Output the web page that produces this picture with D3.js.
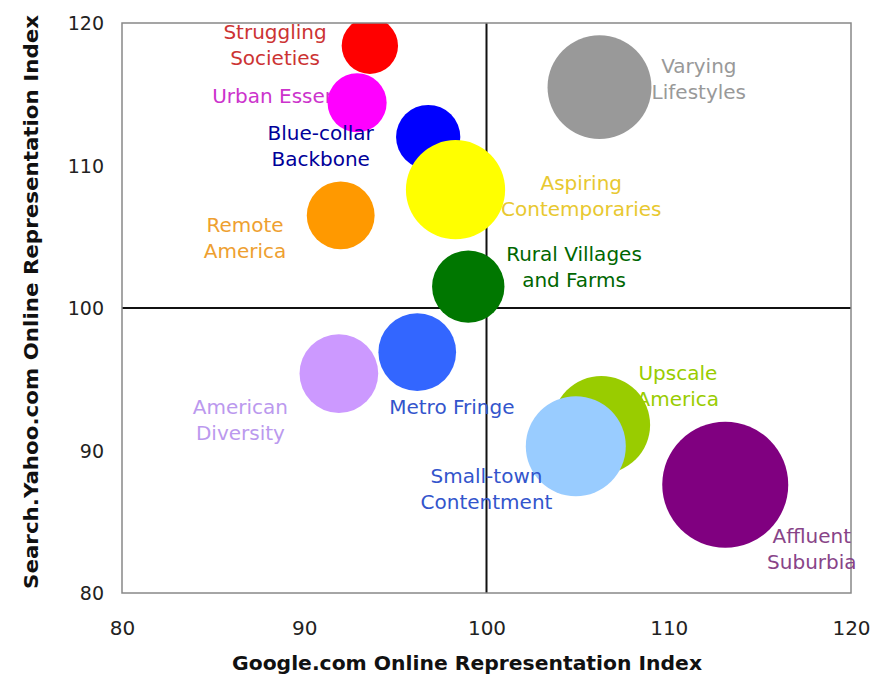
<!DOCTYPE html>
<html>
<head>
<meta charset="utf-8">
<script src="https://cdn.jsdelivr.net/npm/d3@7"></script>
<style>
  html, body { margin: 0; padding: 0; background: #ffffff; }
  svg { display: block; }
</style>
</head>
<body>
<svg id="chart" width="886" height="675"></svg>
<script>
// ---- data (drawing order) ----
const segments = ["Metro Fringe", "American Diversity", "Remote America", "Blue-collar Backbone",
  "Aspiring Contemporaries", "Rural Villages and Farms", "Struggling Societies", "Urban Essentials",
  "Varying Lifestyles", "Upscale America", "Small-town Contentment", "Affluent Suburbia"];
const googleIndex = [96.2, 91.9, 92.0, 96.8, 98.3, 99.0, 93.6, 92.9, 106.2, 106.3, 104.9, 113.1];
const yahooIndex  = [96.9, 95.4, 106.5, 112.0, 108.3, 101.5, 118.4, 114.4, 115.5, 91.8, 90.3, 87.6];
const bubbleSize  = [38, 39, 29, 26, 62, 33, 20, 22, 68, 60, 63, 100];
const fillColors  = ["#3366FF", "#CC99FF", "#FF9900", "#0000FF", "#FFFF00", "#007700", "#FF0000",
  "#FF00FF", "#999999", "#99CC00", "#99CCFF", "#800080"];
const labelColors = ["#3355CC", "#BB99EE", "#EEA030", "#000099", "#E8C830", "#006600", "#CC3333",
  "#CC33CC", "#999999", "#99CC00", "#3355CC", "#884488"];
const labelLines = [["Metro Fringe"], ["American", "Diversity"], ["Remote", "America"], ["Blue-collar", "Backbone"],
  ["Aspiring", "Contemporaries"], ["Rural Villages", "and Farms"], ["Struggling", "Societies"], ["Urban Essentials"],
  ["Varying", "Lifestyles"], ["Upscale", "America"], ["Small-town", "Contentment"], ["Affluent", "Suburbia"]];
// first-line baseline of each label, in data units
const labelX = [98.1, 86.5, 86.75, 90.9, 105.2, 104.8, 88.4, 84.95, 111.65, 110.5, 100.0, 117.85];
const labelY = [92.56, 92.56, 105.33, 111.79, 108.28, 103.3, 118.88, 114.39, 116.49, 94.95, 87.72, 83.51];
const labelAnchor = ["middle", "middle", "middle", "middle", "middle", "middle", "middle", "start",
  "middle", "middle", "middle", "middle"];
const xTicks = [80, 90, 100, 110, 120];
const yTicks = [80, 90, 100, 110, 120];
const xTitle = "Google.com Online Representation Index";
const yTitle = "Search.Yahoo.com Online Representation Index";

// ---- layout ----
const svg = d3.select("#chart");
const pLeft = 122, pRight = 851, pTop = 23, pBottom = 593;
const x = d3.scaleLinear().domain([80, 120]).range([pLeft, pRight]);
const y = d3.scaleLinear().domain([80, 120]).range([pBottom, pTop]);
const r = d3.scaleSqrt().domain([0, 100]).range([0, 63]);
const font = "Verdana, 'DejaVu Sans', sans-serif";

svg.append("defs").append("clipPath").attr("id", "plotclip")
  .append("rect").attr("x", pLeft).attr("y", pTop).attr("width", pRight - pLeft).attr("height", pBottom - pTop);

svg.append("rect").attr("x", pLeft).attr("y", pTop).attr("width", pRight - pLeft).attr("height", pBottom - pTop)
  .attr("fill", "#ffffff");

svg.append("line").attr("x1", x(100)).attr("x2", x(100)).attr("y1", pTop).attr("y2", pBottom)
  .attr("stroke", "#111").attr("stroke-width", 2);
svg.append("line").attr("x1", pLeft).attr("x2", pRight).attr("y1", y(100)).attr("y2", y(100))
  .attr("stroke", "#111").attr("stroke-width", 2);

const data = segments.map((s, i) => ({
  name: s, gx: googleIndex[i], yx: yahooIndex[i], size: bubbleSize[i],
  fill: fillColors[i], lc: labelColors[i], lines: labelLines[i],
  lx: labelX[i], ly: labelY[i], anchor: labelAnchor[i]
}));

function drawLabel(g, d) {
  const t = g.append("text")
    .attr("x", x(d.lx)).attr("y", y(d.ly))
    .attr("text-anchor", d.anchor)
    .attr("fill", d.lc)
    .style("font-family", font).style("font-size", "20px");
  d.lines.forEach((ln, k) => {
    t.append("tspan").attr("x", x(d.lx)).attr("dy", k === 0 ? 0 : 26).text(ln);
  });
}

const under = svg.append("g");
data.filter(d => d.name === "Urban Essentials").forEach(d => drawLabel(under, d));

svg.append("g").attr("clip-path", "url(#plotclip)")
  .selectAll("circle").data(data).join("circle")
  .attr("cx", d => x(d.gx)).attr("cy", d => y(d.yx)).attr("r", d => r(d.size))
  .attr("fill", d => d.fill);

svg.append("rect").attr("x", pLeft).attr("y", pTop).attr("width", pRight - pLeft).attr("height", pBottom - pTop)
  .attr("fill", "none").attr("stroke", "#888888").attr("stroke-width", 1.5);

const over = svg.append("g");
data.filter(d => d.name !== "Urban Essentials").forEach(d => drawLabel(over, d));

const xAxis = svg.append("g").attr("transform", `translate(0,${pBottom + 42})`)
  .call(d3.axisBottom(x).tickValues(xTicks).tickSize(0).tickPadding(0).tickFormat(d3.format("d")));
xAxis.select(".domain").remove();
xAxis.selectAll("text").attr("fill", "#222").attr("dy", 0)
  .style("font-family", font).style("font-size", "20px");

const yAxis = svg.append("g").attr("transform", `translate(${pLeft - 18},0)`)
  .call(d3.axisLeft(y).tickValues(yTicks).tickSize(0).tickPadding(0).tickFormat(d3.format("d")));
yAxis.select(".domain").remove();
yAxis.selectAll("text").attr("fill", "#222").attr("dy", "0.36em")
  .style("font-family", font).style("font-size", "19px");

svg.append("text").attr("x", 467).attr("y", 670).attr("text-anchor", "middle")
  .attr("textLength", 470).attr("lengthAdjust", "spacingAndGlyphs")
  .style("font-family", font).style("font-size", "19px").style("font-weight", "bold")
  .attr("fill", "#111").text(xTitle);
svg.append("text").attr("transform", `translate(38,${302}) rotate(-90)`)
  .attr("text-anchor", "middle")
  .attr("textLength", 574).attr("lengthAdjust", "spacingAndGlyphs")
  .style("font-family", font).style("font-size", "19px").style("font-weight", "bold")
  .attr("fill", "#111").text(yTitle);
</script>
</body>
</html>
